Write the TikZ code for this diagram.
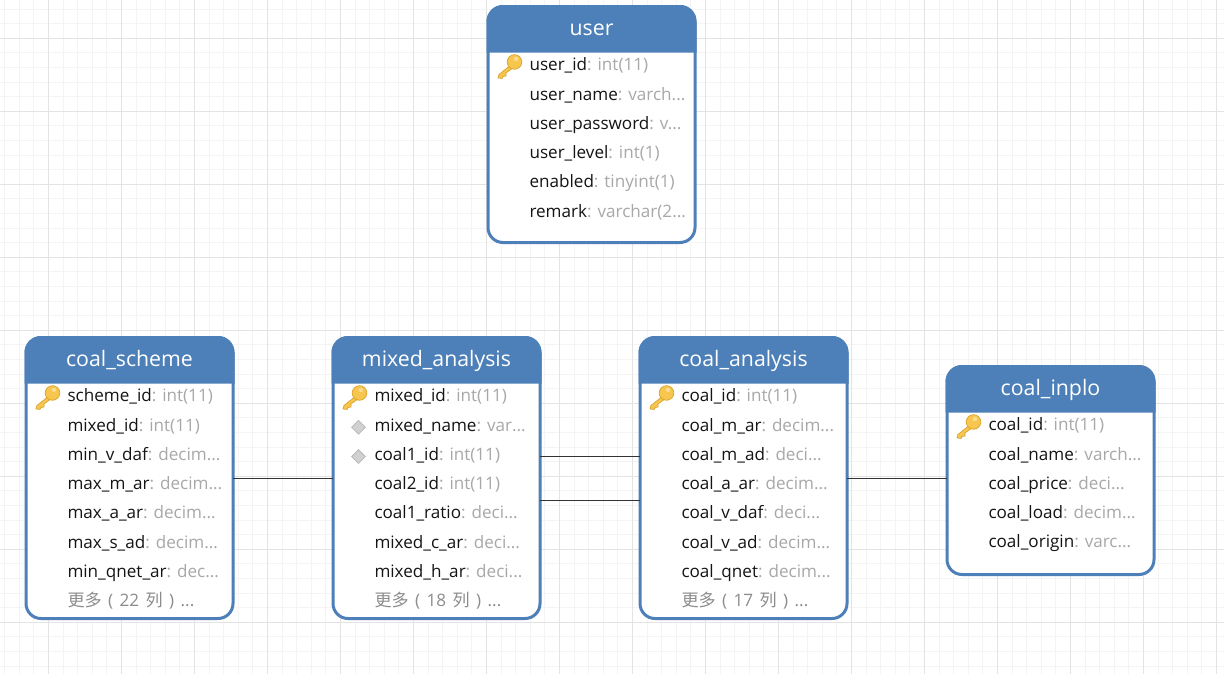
\documentclass[tikz,border=0pt]{standalone}
\usepackage{fontspec}
\setmainfont{Open Sans}
\newfontfamily\cjkfont{Noto Sans CJK SC}
\usetikzlibrary{positioning,shapes.geometric}
\definecolor{ERBlue}{HTML}{4D7FB8}
\definecolor{ERType}{HTML}{A8A8A8}
\definecolor{ERMore}{HTML}{8C8C8C}
\definecolor{ERGridMajor}{HTML}{E3E3E3}
\definecolor{ERGridMinor}{HTML}{F4F4F4}
\definecolor{ERKey}{HTML}{F6C64E}
\definecolor{ERKeyEdge}{HTML}{D9A32B}
\newcommand{\tp}[1]{{\color{ERType}#1}}
\newcommand{\more}[1]{{\color{ERMore}{\cjkfont 更多}\hspace{2pt} (\hspace{2pt} #1\hspace{2pt} {\cjkfont 列}\hspace{2pt} )\hspace{2pt} ...}}
\newcommand{\tablehead}[1]{\filldraw[headfill] ([yshift=-44.5pt]#1.north west) [rounded corners=15pt] -- (#1.north west) -- (#1.north east) [sharp corners] -- ([yshift=-44.5pt]#1.north east) -- cycle;}

\begin{document}
\begin{tikzpicture}[x=1pt, y=-1pt,
  tablebox/.style={draw=ERBlue, line width=3pt, rounded corners=15pt, fill=white, minimum width=207pt, inner sep=0pt, outer sep=0pt},
  headfill/.style={fill=ERBlue, draw=ERBlue, line width=3pt},
  tabletitle/.style={text=white, font=\fontsize{21.3}{24}\selectfont, inner sep=0pt, text height=16pt, text depth=3.5pt, minimum height=44.5pt},
  field/.style={inner sep=0pt, outer sep=0pt, minimum height=29.3pt, text height=17pt, text depth=3.5pt, text=black!92, font=\fontsize{17.1}{19}\selectfont},
  firstrow/.style={field, below right=42.8pt and 41.5pt of #1.north west},
  nextrow/.style={field, below right=0pt and 0pt of #1.south west},
  idxmark/.style={diamond, fill=black!18, draw=black!28, line width=0.8pt, inner sep=0pt, minimum width=14pt, minimum height=14pt},
  link/.style={draw=black!80, line width=1pt},
  keyicon/.pic={
    \filldraw[fill=ERKey, draw=ERKeyEdge, line width=0.7pt] (-3,2.5) -- (-15.5,12.5) -- (-16.5,16) -- (-12.5,16.5) -- (-11.5,14.5) -- (-8.5,14) -- (-8.5,11) -- (4,2) -- cycle;
    \filldraw[fill=ERKey, draw=ERKeyEdge, line width=0.7pt] (0,0) circle (7.3);
    \fill[white!40!ERKey] (1.5,-3) circle (2.2);
  }]
\useasboundingbox (0,0) rectangle (1224,673);
\fill[white] (0,0) rectangle (1224,673);
\draw[ERGridMinor, line width=1pt, xshift=4.6pt, yshift=-9.1pt] (-14.6,-14.6) grid[step=14.6pt] (1241,701);
\draw[ERGridMajor, line width=1pt, xshift=48.3pt, yshift=-38.3pt] (-73,-73) grid[step=73pt] (1241,701);

\node[tablebox, minimum height=236pt] (user) at (591.5,124.5) {};
\node[tablebox, minimum height=281pt] (scheme) at (129.5,478) {};
\node[tablebox, minimum height=281pt, right=100pt of scheme] (mixed) {};
\node[tablebox, minimum height=281pt, right=100pt of mixed] (analysis) {};
\node[tablebox, minimum height=208pt, right=100pt of analysis, yshift=7.5pt] (inplo) {};

\tablehead{user} \tablehead{scheme} \tablehead{mixed} \tablehead{analysis} \tablehead{inplo}
\node[tabletitle, below=0pt of user.north] (usertitle) {user};
\node[tabletitle, below=0pt of scheme.north] (schemetitle) {coal\_scheme};
\node[tabletitle, below=0pt of mixed.north] (mixedtitle) {mixed\_analysis};
\node[tabletitle, below=0pt of analysis.north] (analysistitle) {coal\_analysis};
\node[tabletitle, below=0pt of inplo.north] (inplotitle) {coal\_inplo};

\node[firstrow=user] (user1) {user\_id\tp{: int(11)}};
\node[nextrow=user1] (user2) {user\_name\tp{: varch...}};
\node[nextrow=user2] (user3) {user\_password\tp{: v...}};
\node[nextrow=user3] (user4) {user\_level\tp{: int(1)}};
\node[nextrow=user4] (user5) {enabled\tp{: tinyint(1)}};
\node[nextrow=user5] (user6) {remark\tp{: varchar(2...}};

\node[firstrow=scheme] (scheme1) {scheme\_id\tp{: int(11)}};
\node[nextrow=scheme1] (scheme2) {mixed\_id\tp{: int(11)}};
\node[nextrow=scheme2] (scheme3) {min\_v\_daf\tp{: decim...}};
\node[nextrow=scheme3] (scheme4) {max\_m\_ar\tp{: decim...}};
\node[nextrow=scheme4] (scheme5) {max\_a\_ar\tp{: decim...}};
\node[nextrow=scheme5] (scheme6) {max\_s\_ad\tp{: decim...}};
\node[nextrow=scheme6] (scheme7) {min\_qnet\_ar\tp{: dec...}};
\node[nextrow=scheme7] (scheme8) {\more{22}};

\node[firstrow=mixed] (mixed1) {mixed\_id\tp{: int(11)}};
\node[nextrow=mixed1] (mixed2) {mixed\_name\tp{: var...}};
\node[nextrow=mixed2] (mixed3) {coal1\_id\tp{: int(11)}};
\node[nextrow=mixed3] (mixed4) {coal2\_id\tp{: int(11)}};
\node[nextrow=mixed4] (mixed5) {coal1\_ratio\tp{: deci...}};
\node[nextrow=mixed5] (mixed6) {mixed\_c\_ar\tp{: deci...}};
\node[nextrow=mixed6] (mixed7) {mixed\_h\_ar\tp{: deci...}};
\node[nextrow=mixed7] (mixed8) {\more{18}};

\node[firstrow=analysis] (analysis1) {coal\_id\tp{: int(11)}};
\node[nextrow=analysis1] (analysis2) {coal\_m\_ar\tp{: decim...}};
\node[nextrow=analysis2] (analysis3) {coal\_m\_ad\tp{: deci...}};
\node[nextrow=analysis3] (analysis4) {coal\_a\_ar\tp{: decim...}};
\node[nextrow=analysis4] (analysis5) {coal\_v\_daf\tp{: deci...}};
\node[nextrow=analysis5] (analysis6) {coal\_v\_ad\tp{: decim...}};
\node[nextrow=analysis6] (analysis7) {coal\_qnet\tp{: decim...}};
\node[nextrow=analysis7] (analysis8) {\more{17}};

\node[firstrow=inplo] (inplo1) {coal\_id\tp{: int(11)}};
\node[nextrow=inplo1] (inplo2) {coal\_name\tp{: varch...}};
\node[nextrow=inplo2] (inplo3) {coal\_price\tp{: deci...}};
\node[nextrow=inplo3] (inplo4) {coal\_load\tp{: decim...}};
\node[nextrow=inplo4] (inplo5) {coal\_origin\tp{: varc...}};

\pic at ([xshift=-15pt,yshift=2pt]user1.west) {keyicon};
\pic at ([xshift=-15pt,yshift=2pt]scheme1.west) {keyicon};
\pic at ([xshift=-15pt,yshift=2pt]mixed1.west) {keyicon};
\pic at ([xshift=-15pt,yshift=2pt]analysis1.west) {keyicon};
\pic at ([xshift=-15pt,yshift=2pt]inplo1.west) {keyicon};
\node[idxmark] (mixedmark2) at ([xshift=-16pt,yshift=-3pt]mixed2.west) {};
\node[idxmark] (mixedmark3) at ([xshift=-16pt,yshift=-3pt]mixed3.west) {};

\draw[link] (scheme) -- (mixed);
\draw[link] ([yshift=22pt]mixed.east) -- ([yshift=22pt]analysis.west);
\draw[link] ([yshift=-22pt]mixed.east) -- ([yshift=-22pt]analysis.west);
\draw[link] (analysis.east) -- (analysis.east -| inplo.west);
\end{tikzpicture}
\end{document}
